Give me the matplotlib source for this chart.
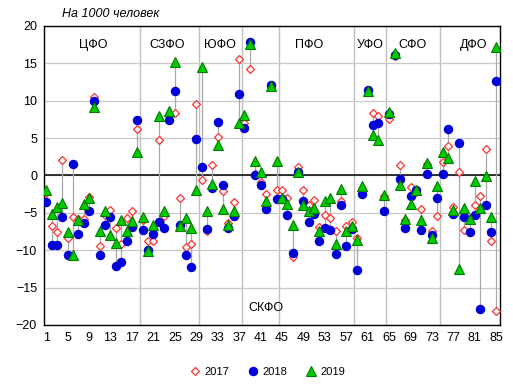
import numpy as np
import matplotlib
matplotlib.use("Agg")
import matplotlib.pyplot as plt

plt.rcParams['font.family'] = ['Liberation Sans', 'DejaVu Sans']

# regions 1..85, values per 1000 people
regions = np.arange(1, 86)

y2017 = [-2.4, -6.8, -7.5, 2.1, -8.3, -5.5, -5.8, -5.8, -2.9, 10.5,
         -9.5, -5.3, -4.6, -7.0, -9.1, -5.7, -4.8, 6.2, -5.9, -8.8,
         -8.7, 4.8, -5.4, 8.0, 8.3, -3.0, -9.6, -9.2, 9.5, -0.6,
         -7.4, 1.4, 5.1, -2.1, -6.4, -3.5, 15.6, 7.0, 14.2, 0.2,
         -0.9, -2.5, 12.0, -1.9, -1.9, -3.0, -10.9, 1.2, -1.9, -3.9,
         -3.3, -6.9, -5.3, -5.7, -7.4, -3.4, -6.7, -6.25, -8.4, -1.8,
         11.3, 8.4, 7.9, -2.8, 7.6, 16.0, 1.4, -6.0, -1.5, -2.2,
         -4.5, 1.5, -7.4, -5.4, 1.8, 3.9, -4.2, 0.45, -7.3, -5.7,
         -3.9, -2.7, 3.6, -8.7, -18.1]

y2018 = [-3.6, -9.3, -9.3, -5.5, -10.6, 1.6, -7.8, -6.4, -4.8, 10.0,
         -10.6, -6.6, -5.6, -12.1, -11.6, -8.7, -6.9, 7.4, -7.3, -10.0,
         -7.8, -6.2, -7.0, 7.4, 11.25, -6.6, -10.6, -12.2, 4.9, 1.2,
         -7.1, -1.65, 7.2, -1.25, -7.05, -5.4, 10.9, 6.4, 17.9, 0.1,
         -1.3, -4.5, 12.05, -3.1, -3.2, -5.3, -10.4, 0.5, -3.4, -6.2,
         -5.1, -8.7, -7.0, -7.3, -10.5, -3.9, -9.4, -7.1, -12.6, -2.5,
         11.45, 6.8, 7.0, -4.75, 8.2, 16.1, -0.45, -7.05, -2.7, -2.0,
         -7.3, 0.2, -8.0, -3.0, 0.2, 6.25, -5.1, 4.4, -5.6, -7.5,
         -5.3, -17.9, -4.0, -7.5, 12.7]

y2019 = [-1.9, -5.2, -4.2, -3.7, -7.5, -10.6, -5.9, -3.8, -3.0, 9.2,
         -7.4, -4.7, -8.0, -9.0, -6.0, -7.4, -6.1, 3.1, -5.6, -10.1,
         -6.6, 8.0, -4.8, 8.6, 15.2, -6.8, -5.7, -7.0, -1.9, 14.5,
         -4.7, -1.1, 4.1, -4.55, -6.6, -4.7, 7.0, 8.1, 17.6, 1.9,
         0.5, -3.4, 12.0, 2.0, -3.0, -3.8, -6.6, 0.45, -3.9, -4.8,
         -4.3, -7.4, -3.4, -3.0, -9.2, -1.8, -7.4, -6.8, -8.6, -1.4,
         11.3, 5.4, 4.75, -2.55, 8.45, 16.35, -1.3, -5.8, -3.8, -2.0,
         -5.9, 1.7, -8.3, -1.4, 3.2, 2.4, -4.6, -12.5, -4.3, -5.8,
         -0.8, -4.4, -0.05, -5.5, 17.2]

# federal district boundaries and labels
borders = [18.5, 29.5, 37.5, 44.5, 58.5, 64.5, 74.5]
districts = ["ЦФО", "СЗФО", "ЮФО", "СКФО", "ПФО", "УФО", "СФО", "ДФО"]
label_x = [9.8, 23.5, 33.4, 42.0, 50.0, 61.4, 69.4, 80.8]
label_y = [17.5, 17.5, 17.5, -17.7, 17.5, 17.5, 17.5, 17.5]

xticks = list(range(1, 86, 4))

fig = plt.figure(figsize=(5.13, 3.9), dpi=100)
ax = fig.add_axes([0.0858, 0.1667, 0.888, 0.7667])

data = np.array([y2017, y2018, y2019])
lows = data.min(axis=0)
highs = data.max(axis=0)

ax.set_yticks(range(-20, 21, 5))
ax.yaxis.grid(True, color='#c8c8c8', lw=0.9, zorder=0)
ax.set_axisbelow(True)
for b in borders:
    ax.axvline(b, color='#c0c0c0', lw=1, zorder=0.5)
ax.axhline(0, color='black', lw=1.1, zorder=1)

# high-low lines
ax.vlines(regions, lows, highs, color='#a8a8a8', lw=0.9, zorder=1.5)

ax.plot(regions, y2017, ls='none', marker='D', ms=4.2, mfc='white',
        mec='#ff3030', mew=0.9, label='2017', zorder=3)
ax.plot(regions, y2018, ls='none', marker='o', ms=5.8, mfc='#0000d8',
        mec='#0000d8', label='2018', zorder=4)
ax.plot(regions, y2019, ls='none', marker='^', ms=7, mfc='#00cc00',
        mec='#007a00', mew=0.8, label='2019', zorder=5)

for name, lx, ly in zip(districts, label_x, label_y):
    ax.text(lx, ly, name, ha='center', va='center', fontsize=9)

ax.set_xlim(0.6, 85.6)
ax.set_ylim(-20, 20)
ax.set_xticks(xticks)
ax.tick_params(axis='both', length=0, labelsize=9, pad=5)
for s in ax.spines.values():
    s.set_color('black')
    s.set_linewidth(1)

fig.text(62 / 513, 1 - 14 / 390, "На 1000 человек", style='italic',
         fontsize=9, va='center', ha='left')

fig.legend(loc='center', bbox_to_anchor=(0.52, 1 - 372 / 390), ncol=3,
           frameon=False, fontsize=8, handletextpad=0.2, columnspacing=1.6,
           handlelength=1.2)

fig.savefig("out.png", dpi=100)
